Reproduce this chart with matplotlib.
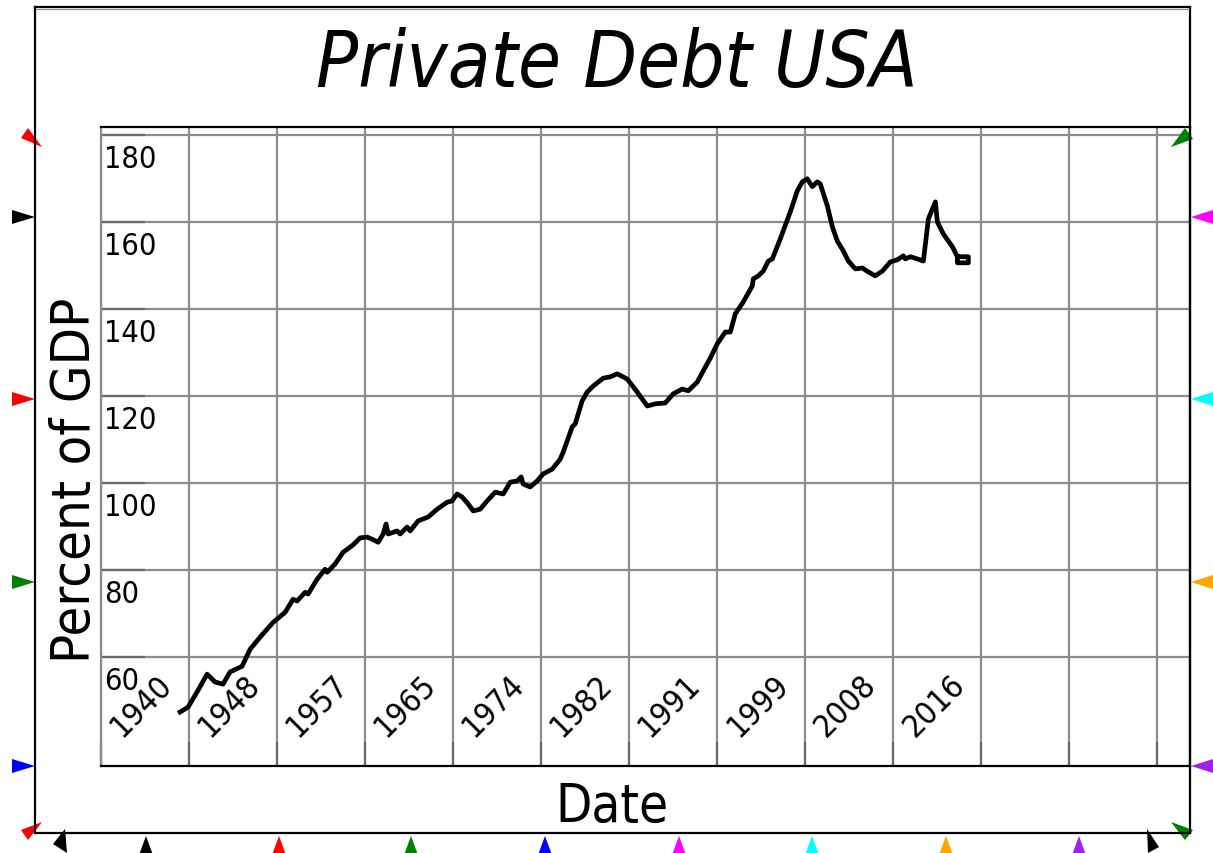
import matplotlib
matplotlib.use('Agg')
import matplotlib.pyplot as plt
from matplotlib.patches import Polygon
from matplotlib.lines import Line2D

# Private non-financial debt, percent of GDP
years = [
    1947.58, 1948.34, 1949.21, 1950.17, 1950.93, 1951.70, 1952.37, 1953.52,
    1954.29, 1955.25, 1956.50, 1957.65, 1958.41, 1958.80, 1959.57, 1959.85,
    1960.72, 1961.48, 1961.68, 1962.44, 1963.21, 1964.17, 1964.84, 1965.51,
    1965.99, 1966.57, 1967.05, 1967.33, 1967.53, 1968.39, 1968.68, 1969.35,
    1969.64, 1970.40, 1971.36, 1972.23, 1973.18, 1973.66, 1974.14, 1974.62,
    1975.20, 1975.68, 1976.35, 1977.02, 1977.79, 1978.56, 1979.23, 1979.90,
    1980.28, 1980.47, 1981.15, 1981.82, 1982.39, 1983.26, 1984.02, 1984.31,
    1985.17, 1985.46, 1986.13, 1986.61, 1987.19, 1988.15, 1988.82, 1989.49,
    1990.45, 1991.41, 1992.37, 1993.13, 1994.09, 1994.86, 1995.72, 1996.30,
    1997.16, 1997.74, 1998.41, 1999.08, 1999.85, 2000.33, 2000.81, 2001.57,
    2002.44, 2002.53, 2003.01, 2003.49, 2003.97, 2004.36, 2005.12, 2006.08,
    2006.75, 2007.23, 2007.71, 2008.19, 2008.67, 2008.96, 2009.63, 2010.11,
    2010.59, 2011.17, 2011.65, 2012.32, 2012.99, 2013.56, 2014.23, 2014.91,
    2015.67, 2016.34, 2016.92, 2017.11, 2017.59, 2018.26, 2018.84, 2019.32,
    2019.99, 2020.18, 2020.76, 2021.62, 2022.10, 2023.15, 2023.15, 2022.10,
    2022.10,
]
debt = [
    47.4, 48.5, 52.0, 56.1, 54.3, 53.8, 56.6, 57.9,
    61.8, 64.6, 68.0, 70.3, 73.3, 72.9, 74.9, 74.5,
    77.9, 80.2, 79.5, 81.4, 84.1, 85.8, 87.4, 87.6,
    87.1, 86.4, 88.3, 90.6, 88.3, 89.0, 88.3, 89.9,
    89.0, 91.3, 92.2, 94.0, 95.6, 95.9, 97.5, 96.8,
    95.2, 93.6, 94.0, 95.9, 97.9, 97.5, 100.2, 100.5,
    101.4, 99.8, 99.1, 100.5, 102.1, 103.2, 105.5, 107.1,
    112.9, 113.6, 118.9, 120.9, 122.3, 124.1, 124.4, 125.1,
    123.9, 120.9, 117.7, 118.2, 118.4, 120.5, 121.6, 121.2,
    123.2, 125.8, 128.7, 132.0, 134.7, 134.7, 138.9, 141.6,
    145.3, 146.9, 147.6, 148.7, 151.0, 151.5, 156.1, 162.3,
    167.1, 169.2, 169.9, 168.1, 169.2, 168.7, 163.7, 158.9,
    155.6, 153.3, 151.0, 149.2, 149.4, 148.5, 147.6, 148.7,
    150.8, 151.3, 152.2, 151.5, 152.0, 151.5, 151.0, 160.7,
    164.6, 160.0, 157.2, 154.3, 152.0, 152.0, 150.6, 150.6,
    152.0,
]

tick_step = 8.44
x_ticks = [1940 + i * tick_step for i in range(13)]
x_labels = ['1940', '1948', '1957', '1965', '1974', '1982', '1991', '1999', '2008', '2016']
y_ticks = [60, 80, 100, 120, 140, 160, 180]

W, H = 1213, 854
FONT = dict(family='DejaVu Sans', stretch='condensed')
GRID = '#8c8c8c'

fig = plt.figure(figsize=(W / 100, H / 100), dpi=100)


def fx(px):
    return px / W


def fy(py):
    return 1 - py / H


ax = fig.add_axes([fx(101), fy(767), fx(1190) - fx(101), fy(128) - fy(767)])
ax.plot(years, debt, color='black', lw=3.4)

ax.set_xlim(1940, 2044.4)
ax.set_ylim(35, 181.8)
ax.set_xticks(x_ticks)
ax.set_yticks(y_ticks)
ax.grid(color=GRID, lw=1.6)
ax.tick_params(labelbottom=False, labelleft=False, direction='in', color='#6a6a6a', width=1.6)
ax.tick_params(axis='y', length=32)
ax.tick_params(axis='x', length=17)
for side in ['top', 'bottom', 'right']:
    ax.spines[side].set_color('black')
    ax.spines[side].set_linewidth(1.6)
ax.spines['left'].set_color(GRID)
ax.spines['left'].set_linewidth(1.6)

# tick labels sit inside the plot area
for v in y_ticks:
    ax.annotate(str(v), xy=(0, v), xycoords=('axes fraction', 'data'),
                xytext=(3, -9), textcoords='offset pixels',
                ha='left', va='top', fontsize=22, **FONT)
for t, lab in zip(x_ticks, x_labels):
    ax.annotate(lab, xy=(t, 0), xycoords=('data', 'axes fraction'),
                xytext=(26, 24), textcoords='offset pixels',
                rotation=45, rotation_mode='anchor',
                ha='left', va='bottom', fontsize=23, **FONT)

fig.text(fx(617), fy(65), 'Private Debt USA', style='italic', fontsize=56,
         ha='center', va='center', **FONT)
fig.text(fx(75), fy(480), 'Percent of GDP', rotation=90, fontsize=39,
         ha='center', va='center', **FONT)
fig.text(fx(612), fy(807), 'Date', fontsize=38, ha='center', va='center', **FONT)

# outer widget frame
frame = [((35, 8), (35, 834)), ((35, 834), (1190, 834)),
         ((1190, 834), (1190, 8)), ((35, 8), (1190, 8))]
for (x0, y0), (x1, y1) in frame:
    fig.add_artist(Line2D([fx(x0), fx(x1)], [fy(y0), fy(y1)], color='black', lw=1.6))
fig.add_artist(Line2D([fx(36), fx(1189)], [fy(10), fy(10)], color=GRID, lw=0.8))


def tri(pts, color):
    fig.add_artist(Polygon([(fx(a), fy(b)) for a, b in pts], closed=True,
                           facecolor=color, edgecolor='none'))


# port markers: left side pointing right, right side pointing left
for yy, c in zip([218, 400, 583, 767], ['black', 'red', 'green', 'blue']):
    tri([(12, yy - 7), (12, yy + 7), (35, yy)], c)
for yy, c in zip([218, 400, 583, 767], ['magenta', 'cyan', 'orange', '#a020f0']):
    tri([(1213, yy - 7), (1213, yy + 7), (1191, yy)], c)

# bottom row pointing up
for xx, c in zip([146, 279, 411, 545, 679, 812, 946, 1079],
                 ['black', 'red', 'green', 'blue', 'magenta', 'cyan', 'orange', '#a020f0']):
    tri([(xx - 7, 856), (xx + 7, 856), (xx, 837)], c)

# tilted corner markers
tri([(21, 139), (28, 129), (42, 148)], 'red')
tri([(1171, 148), (1185, 129), (1193, 140)], 'green')
tri([(21, 831), (42, 823), (28, 841)], 'red')
tri([(1171, 823), (1193, 831), (1185, 841)], 'green')
tri([(53, 845), (65, 830), (67, 854)], 'black')
tri([(1147, 830), (1159, 848), (1148, 854)], 'black')

fig.savefig('out.png', dpi=100)
